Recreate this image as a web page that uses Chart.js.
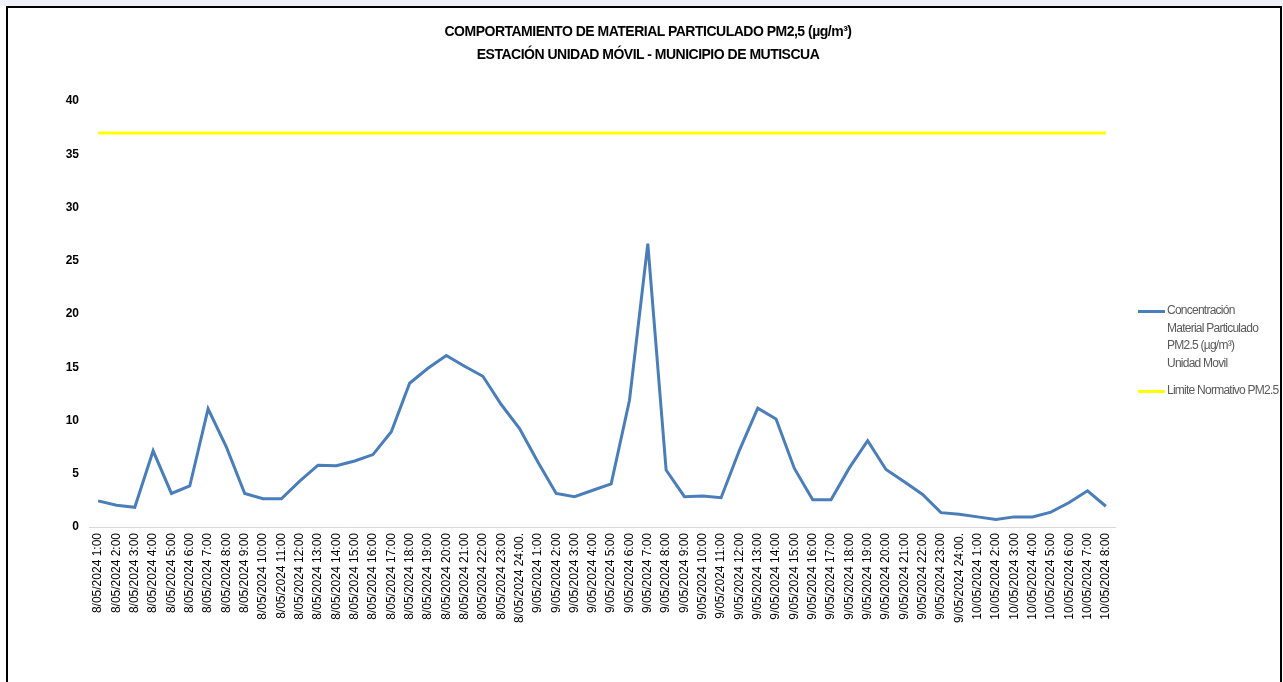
<!DOCTYPE html>
<html lang="es">
<head>
<meta charset="utf-8">
<title>PM2,5 - Unidad Móvil Mutiscua</title>
<script src="https://cdn.jsdelivr.net/npm/chart.js@4.4.1/dist/chart.umd.min.js"></script>
<style>
  html, body { margin: 0; padding: 0; background: #fff; }
  body { width: 1283px; height: 682px; position: relative; overflow: hidden; font-family: "Liberation Sans", Arial, sans-serif; }
  .top-strip { position: absolute; left: 0; top: 0; width: 1283px; height: 6px; background: #eef1f5; }
  .frame { position: absolute; left: 6px; top: 6px; width: 1276px; height: 700px; border: 2px solid #000; box-sizing: border-box; }
  #chart { position: absolute; left: 0; top: 0; }
  .chart-title { position: absolute; left: 348px; width: 600px; top: 20px; text-align: center; font-weight: bold; font-size: 14px; letter-spacing: -0.5px; line-height: 23px; color: #000; white-space: nowrap; }
  .legend { position: absolute; left: 1138px; top: 302px; font-size: 12px; letter-spacing: -0.75px; color: #595959; white-space: nowrap; }
  .legend-item { position: relative; padding-left: 29px; line-height: 17.5px; }
  .legend-item + .legend-item { margin-top: 10px; }
  .legend-swatch { position: absolute; left: 0; top: 8px; width: 27px; height: 3px; }
</style>
</head>
<body>
<div class="top-strip"></div>
<div class="frame"></div>
<canvas id="chart" width="1283" height="682"></canvas>
<div class="chart-title">COMPORTAMIENTO DE MATERIAL PARTICULADO PM2,5 (µg/m³)<br>ESTACIÓN UNIDAD MÓVIL - MUNICIPIO DE MUTISCUA</div>
<div class="legend" id="legend"></div>
<script>
const hourLabels = [
  "8/05/2024 1:00", "8/05/2024 2:00", "8/05/2024 3:00", "8/05/2024 4:00", "8/05/2024 5:00", "8/05/2024 6:00",
  "8/05/2024 7:00", "8/05/2024 8:00", "8/05/2024 9:00", "8/05/2024 10:00", "8/05/2024 11:00", "8/05/2024 12:00",
  "8/05/2024 13:00", "8/05/2024 14:00", "8/05/2024 15:00", "8/05/2024 16:00", "8/05/2024 17:00", "8/05/2024 18:00",
  "8/05/2024 19:00", "8/05/2024 20:00", "8/05/2024 21:00", "8/05/2024 22:00", "8/05/2024 23:00", "8/05/2024 24:00.",
  "9/05/2024 1:00", "9/05/2024 2:00", "9/05/2024 3:00", "9/05/2024 4:00", "9/05/2024 5:00", "9/05/2024 6:00",
  "9/05/2024 7:00", "9/05/2024 8:00", "9/05/2024 9:00", "9/05/2024 10:00", "9/05/2024 11:00", "9/05/2024 12:00",
  "9/05/2024 13:00", "9/05/2024 14:00", "9/05/2024 15:00", "9/05/2024 16:00", "9/05/2024 17:00", "9/05/2024 18:00",
  "9/05/2024 19:00", "9/05/2024 20:00", "9/05/2024 21:00", "9/05/2024 22:00", "9/05/2024 23:00", "9/05/2024 24:00.",
  "10/05/2024 1:00", "10/05/2024 2:00", "10/05/2024 3:00", "10/05/2024 4:00", "10/05/2024 5:00", "10/05/2024 6:00",
  "10/05/2024 7:00", "10/05/2024 8:00",
];

// concentración PM2.5 (µg/m³)
const pm25Values = [
  2.45, 2.05, 1.85, 7.15, 3.15, 3.85, 11.1, 7.5, 3.15, 2.65,
  2.65, 4.3, 5.8, 5.75, 6.2, 6.8, 8.95, 13.5, 14.9, 16.1,
  15.1, 14.15, 11.5, 9.25, 6.1, 3.15, 2.85, 3.45, 4.05, 11.9,
  26.6, 5.35, 2.85, 2.9, 2.75, 7.2, 11.15, 10.15, 5.5, 2.55,
  2.55, 5.55, 8.1, 5.4, 4.25, 3.05, 1.35, 1.2, 0.95, 0.7,
  0.95, 0.95, 1.4, 2.3, 3.4, 1.95,
];

const limitValues = [
  37, 37, 37, 37, 37, 37, 37, 37, 37, 37, 37, 37, 37, 37, 37, 37, 37, 37, 37, 37,
  37, 37, 37, 37, 37, 37, 37, 37, 37, 37, 37, 37, 37, 37, 37, 37, 37, 37, 37, 37,
  37, 37, 37, 37, 37, 37, 37, 37, 37, 37, 37, 37, 37, 37, 37, 37,
];

const yTicks = [0, 5, 10, 15, 20, 25, 30, 35, 40];

const seriesNames = [
  ["Concentración", "Material Particulado", "PM2.5 (µg/m³)", "Unidad Movil"],
  ["Limite Normativo PM2.5"],
];
const seriesColors = ["#4A7EBB", "#FFFF00"];

document.getElementById("legend").innerHTML = seriesNames
  .map((lines, i) => `
    <div class="legend-item">
      <span class="legend-swatch" style="background:${seriesColors[i]}"></span>
      ${lines.join("<br>")}
    </div>`)
  .join("");

const fontFamily = '"Liberation Sans", Arial, sans-serif';

new Chart(document.getElementById("chart").getContext("2d"), {
  type: "line",
  data: {
    labels: hourLabels,
    datasets: [
      {
        label: seriesNames[0].join(" "),
        data: pm25Values,
        borderColor: seriesColors[0],
        borderWidth: 3,
        pointRadius: 0,
        tension: 0,
        order: 1,
      },
      {
        label: seriesNames[1].join(" "),
        data: limitValues,
        borderColor: seriesColors[1],
        borderWidth: 3,
        pointRadius: 0,
        tension: 0,
        order: 2,
      },
    ],
  },
  options: {
    responsive: false,
    animation: false,
    layout: { padding: { left: 0, top: 101, right: 168, bottom: 45 } },
    plugins: {
      legend: { display: false },
      title: { display: false },
      tooltip: { enabled: false },
    },
    scales: {
      x: {
        offset: true,
        grid: { display: false, drawTicks: false },
        border: { display: true, color: "#d9d9d9", width: 1 },
        ticks: {
          autoSkip: false,
          minRotation: 90,
          maxRotation: 90,
          padding: 6,
          color: "#000",
          font: { family: fontFamily, size: 12 },
        },
        afterFit: (scale) => { scale.height = 110; },
      },
      y: {
        min: 0,
        max: 40,
        afterBuildTicks: (scale) => { scale.ticks = yTicks.map((v) => ({ value: v })); },
        grid: { display: false, drawTicks: false },
        border: { display: false },
        ticks: {
          padding: 10,
          color: "#000",
          font: { family: fontFamily, size: 12, weight: "bold" },
        },
        afterFit: (scale) => { scale.width = 89; },
      },
    },
  },
});
</script>
</body>
</html>
